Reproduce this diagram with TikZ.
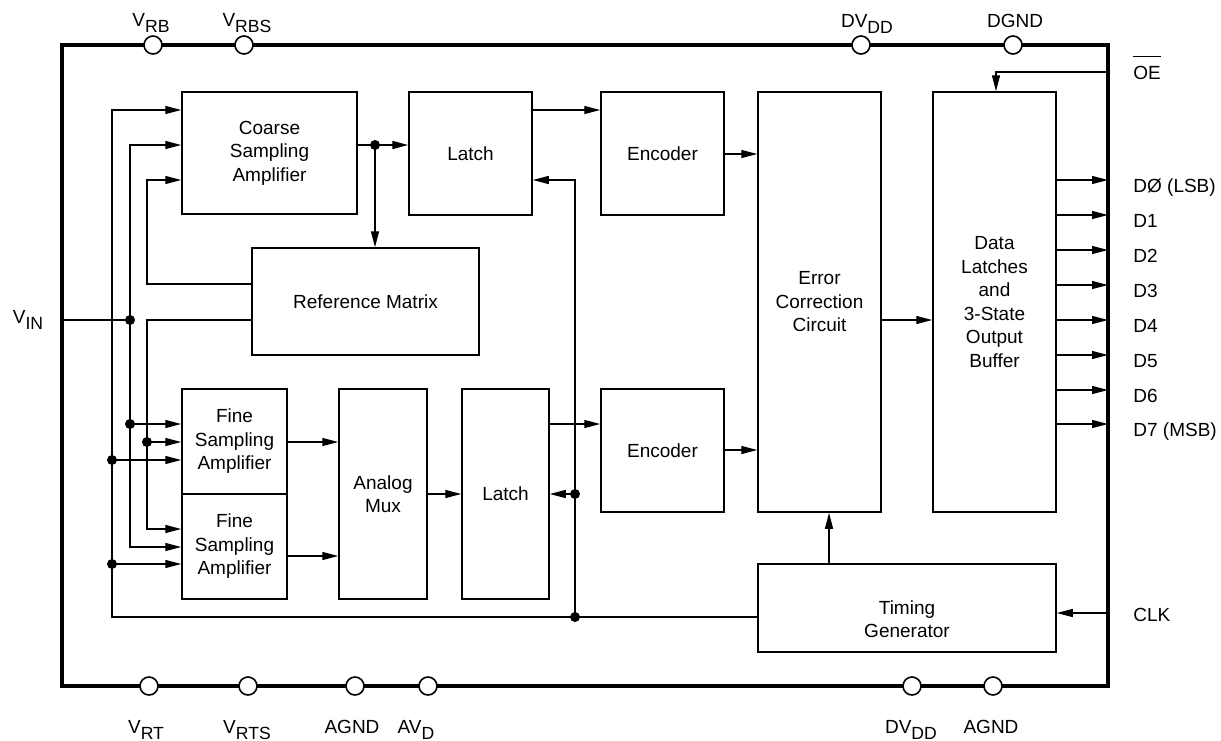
\documentclass[tikz,border=0pt]{standalone}
\usepackage{fontspec}
\setmainfont{Liberation Sans}
\usetikzlibrary{arrows.meta}

\newcommand{\pinsub}[1]{\raisebox{-3pt}{\fontsize{8.8}{9}\selectfont #1}}

\tikzset{
    blk/.style={draw, line width=0.75pt, align=center, inner sep=0pt},
    wire/.style={line width=0.7pt},
    arr/.style={wire, -{Triangle[length=8pt,width=4pt]}},
    dot/.style={circle, fill, inner sep=0pt, minimum size=5pt},
    pin/.style={circle, draw, fill=white, line width=0.8pt, inner sep=0pt, minimum size=9pt},
    lbl/.style={inner sep=0pt, anchor=base},
}

\begin{document}
\begin{tikzpicture}[x=0.5pt, y=-0.5pt, font=\fontsize{9.5}{11.75}\selectfont]
    \useasboundingbox (0,0) rectangle (1221,740);

    % Package outline
    \draw[line width=2pt] (62,45) rectangle (1108,686);

    % Blocks
    \node[blk, minimum width=87.5pt, minimum height=61pt] (coarse) at (269.5,153) {Coarse\\Sampling\\Amplifier};
    \node[blk, minimum width=61.5pt, minimum height=61.5pt] (latchA) at (470.5,153.5) {Latch};
    \node[blk, minimum width=61.5pt, minimum height=61.5pt] (encA) at (662.5,153.5) {Encoder};
    \node[blk, minimum width=113.5pt, minimum height=53.5pt] (refm) at (365.5,301.5) {Reference Matrix};
    \node[blk, minimum width=52.5pt, minimum height=52.5pt] (fineA) at (234.5,441.5) {Fine\\Sampling\\Amplifier};
    \node[blk, minimum width=52.5pt, minimum height=52.5pt] (fineB) at (234.5,546.5) {Fine\\Sampling\\Amplifier};
    \node[blk, minimum width=44pt, minimum height=105pt] (mux) at (383,494) {Analog\\Mux};
    \node[blk, minimum width=43.5pt, minimum height=105pt] (latchB) at (505.5,494) {Latch};
    \node[blk, minimum width=61.5pt, minimum height=61.5pt] (encB) at (662.5,450.5) {Encoder};
    \node[blk, minimum width=61.5pt, minimum height=210pt] (ecc) at (819.5,302) {Error\\Correction\\Circuit};
    \node[blk, minimum width=61.5pt, minimum height=210pt] (dlat) at (994.5,302) {Data\\Latches\\and\\3-State\\Output\\Buffer};
    \node[blk, minimum width=149pt, minimum height=44pt] (timing) at (907,608) {};
    \node[align=center, inner sep=0pt] (timingT) at (907,619) {Timing\\Generator};

    % Junctions
    \coordinate (vin) at (62,320);
    \coordinate (jvin) at (130,320);
    \coordinate (jb1) at (130,424);
    \coordinate (jc1) at (147,442);
    \coordinate (ja1) at (112,460);
    \coordinate (ja2) at (112,564);
    \coordinate (jco) at (375,145);
    \coordinate (jt) at (575,617);
    \coordinate (jl) at (575,494);
    \coordinate (oein) at (1108,72);
    \coordinate (clkin) at (1108,613);

    % Lines
    \draw[wire] (vin) -- (jvin);
    \draw[arr] (jvin) |- (coarse.west |- 0,145);
    \draw[arr] (jvin) |- (fineB.west |- 0,547);
    \draw[arr] (jb1) -- (fineA.west |- jb1);
    \draw[arr] (refm.west |- 0,284) -| (147,180) -- (coarse.west |- 0,180);
    \draw[arr] (refm.west |- 0,320) -| (147,529) -- (fineB.west |- 0,529);
    \draw[arr] (jc1) -- (fineA.west |- jc1);
    \draw[arr] (timing.west |- jt) -| (112,110) -- (coarse.west |- 0,110);
    \draw[arr] (ja1) -- (fineA.west |- ja1);
    \draw[arr] (ja2) -- (fineB.west |- ja2);
    \draw[arr] (jt) |- (latchA.east |- 0,180);
    \draw[arr] (jl) -- (latchB.east |- jl);

    \draw[wire] (coarse.east |- jco) -- (jco);
    \draw[arr] (jco) -- (latchA.west |- jco);
    \draw[arr] (jco) -- (refm.north -| jco);
    \draw[arr] (latchA.east |- 0,110) -- (encA.west |- 0,110);
    \draw[arr] (encA.east |- 0,154) -- (ecc.west |- 0,154);
    \draw[arr] (fineA.east |- 0,442) -- (mux.west |- 0,442);
    \draw[arr] (fineB.east |- 0,556) -- (mux.west |- 0,556);
    \draw[arr] (mux.east |- 0,494) -- (latchB.west |- 0,494);
    \draw[arr] (latchB.east |- 0,424) -- (encB.west |- 0,424);
    \draw[arr] (encB.east |- 0,450) -- (ecc.west |- 0,450);
    \draw[arr] (timing.north -| 829,0) -- (ecc.south -| 829,0);
    \draw[arr] (ecc.east |- 0,320) -- (dlat.west |- 0,320);
    \draw[arr] (oein) -| (dlat.north -| 996,0);
    \draw[arr] (clkin) -- (timing.east |- clkin);

    % Outputs
    \foreach \yy/\txt [count=\i] in {180/DØ (LSB), 215/D1, 250/D2, 285/D3, 320/D4, 355/D5, 390/D6, 424/D7 (MSB)} {
        \coordinate (dout\i) at (1108,\yy);
        \draw[arr] (dlat.east |- dout\i) -- (dout\i);
        \node[lbl, anchor=base west] (dlbl\i) at (1133,\yy+12) {\txt};
    }

    % Points
    \foreach \p in {jvin, jb1, jc1, ja1, ja2, jco, jt, jl}
        \node[dot] at (\p) {};

    % Pins
    \node[pin] (prb) at (153,45) {};
    \node[pin] (prbs) at (244,45) {};
    \node[pin] (pdvt) at (861,45) {};
    \node[pin] (pdg) at (1013,45) {};
    \node[pin] (prt) at (149,686) {};
    \node[pin] (prts) at (248,686) {};
    \node[pin] (pag) at (355,686) {};
    \node[pin] (pav) at (428,686) {};
    \node[pin] (pdvb) at (912,686) {};
    \node[pin] (pagb) at (993,686) {};

    % Pin labels
    \node[lbl] (lrb) at (151,26) {V\pinsub{RB}};
    \node[lbl] (lrbs) at (247,26) {V\pinsub{RBS}};
    \node[lbl] (ldvt) at (867,27) {DV\pinsub{DD}};
    \node[lbl] (ldg) at (1015,27) {DGND};
    \node[lbl] (lrt) at (146,733) {V\pinsub{RT}};
    \node[lbl] (lrts) at (247,733) {V\pinsub{RTS}};
    \node[lbl] (lag) at (352,733) {AGND};
    \node[lbl] (lav) at (416,733) {AV\pinsub{D}};
    \node[lbl] (ldvb) at (911,733) {DV\pinsub{DD}};
    \node[lbl] (lagb) at (991,733) {AGND};
    \node[lbl] (lvin) at (28,323) {V\pinsub{IN}};
    \node[lbl, anchor=base west] (loe) at (1133,79) {OE};
    \draw[line width=0.6pt] ([yshift=4.5pt]loe.north west) -- ([yshift=4.5pt]loe.north east);
    \node[lbl, anchor=base west] (lclk) at (1133,621) {CLK};
\end{tikzpicture}
\end{document}
